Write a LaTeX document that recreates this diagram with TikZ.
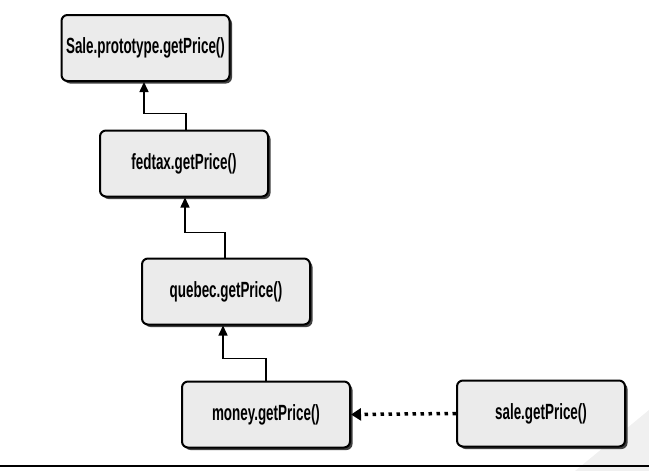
\documentclass[tikz,border=0pt]{standalone}
\usepackage{fontspec}
\setsansfont{Liberation Sans}[FakeStretch=0.61]
\usetikzlibrary{shadows,arrows.meta,calc}
\begin{document}
\begin{tikzpicture}[x=1pt,y=-1pt,
  box/.style={draw=black, line width=2pt, rounded corners=6pt, fill=black!8,
    minimum width=168pt, minimum height=66pt, inner sep=0pt,
    font=\sffamily\bfseries\fontsize{22}{25}\selectfont,
    drop shadow={shadow xshift=2.5pt, shadow yshift=-2.5pt, fill=black!75, opacity=1}},
  link/.style={line width=1.5pt, -{Triangle[length=10pt,width=9pt]}},
  dotlink/.style={line width=3.5pt, dash pattern=on 3.5pt off 4.5pt, -{Triangle[length=10pt,width=12pt]}, shorten >=0pt}]
\useasboundingbox (0,0) rectangle (649,471);
\fill[black!6] (575,471) -- (649,410) -- (649,471) -- cycle;
\node[box] (proto) at (145.5,48) {Sale.prototype.getPrice()};
\node[box] (fed) at (184,163.5) {fedtax.getPrice()};
\node[box] (que) at (226,291.5) {quebec.getPrice()};
\node[box] (mon) at (266,414.5) {money.getPrice()};
\node[box] (sale) at (541,413.5) {sale.getPrice()};
\draw[link] ($(fed.north)+(2,0)$) -- ++(0,-16) -| ($(proto.south)+(-1.5,0)$);
\draw[link] ($(que.north)+(-1,0)$) -- ++(0,-25) -| ($(fed.south)+(1,0)$);
\draw[link] (mon.north) -- ++(0,-22) -| ($(que.south)+(-3,0)$);
\draw[dotlink] (sale.west) -- (mon.east);
\coordinate (l0) at (0,466);
\coordinate (l1) at (649,466);
\draw[line width=1.3pt] (l0) -- (l1);
\end{tikzpicture}
\end{document}
